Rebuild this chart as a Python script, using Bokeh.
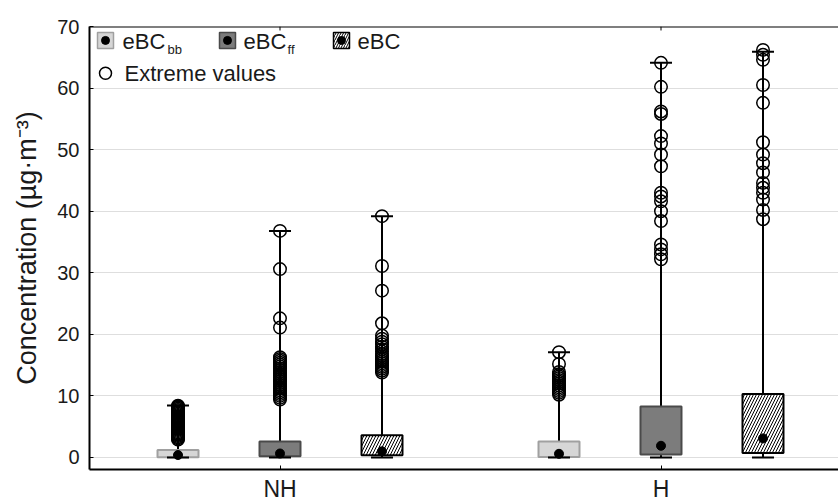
from bokeh.plotting import figure
from bokeh.models import Range1d, FixedTicker, Span
from bokeh.embed import file_html
from bokeh.resources import INLINE
from bokeh.core.properties import value

# ---------------- data ----------------
groups = ["NH", "H"]
series = ["eBCbb", "eBCff", "eBC"]

nh_min = [0.0, 0.0, 0.0]
nh_q1 = [0.05, 0.2, 0.37]
nh_med = [0.4, 0.65, 1.0]
nh_q3 = [1.2, 2.6, 3.6]
nh_max = [8.45, 36.8, 39.2]

h_min = [0.0, 0.0, 0.0]
h_q1 = [0.1, 0.5, 0.75]
h_med = [0.6, 1.9, 3.1]
h_q3 = [2.6, 8.3, 10.3]
h_max = [17.1, 64.1, 65.9]

nh_bb_ext = [8.4, 8.3, 8.1, 7.9, 7.7, 7.5, 7.3, 7.1, 6.9, 6.7, 6.5, 6.3, 6.1, 5.9, 5.7,
             5.5, 5.3, 5.1, 4.9, 4.7, 4.5, 4.3, 4.1, 3.9, 3.7, 3.5, 3.3, 3.1, 2.9]
nh_ff_ext = [36.8, 30.6, 22.6, 21.1, 16.3, 16.0, 15.7, 15.4, 15.1, 14.8, 14.5, 14.2,
             13.9, 13.6, 13.3, 13.0, 12.7, 12.4, 12.1, 11.8, 11.5, 11.2, 10.9, 10.6,
             10.3, 10.0, 9.7, 9.4]
nh_bc_ext = [39.2, 31.1, 27.1, 21.8, 19.8, 19.3, 18.8, 18.4, 18.0, 17.6, 17.2, 16.8,
             16.5, 16.2, 15.9, 15.6, 15.3, 15.0, 14.7, 14.4, 14.1, 13.8]
h_bb_ext = [17.1, 15.2, 13.9, 13.5, 13.2, 12.9, 12.6, 12.3, 12.0, 11.7, 11.4, 11.1,
            10.8, 10.5, 10.2]
h_ff_ext = [64.1, 60.2, 56.2, 55.8, 52.2, 51.0, 49.2, 47.3, 43.0, 42.4, 41.6, 40.0,
            38.4, 34.6, 33.8, 33.0, 32.2]
h_bc_ext = [66.2, 65.4, 64.6, 60.5, 57.6, 51.2, 49.2, 47.8, 46.3, 44.6, 43.8, 43.0,
            41.9, 40.2, 38.7]

y_ticks = [0, 10, 20, 30, 40, 50, 60, 70]

# ---------------- styles ----------------
fills = ["#d6d6d6", "#7c7c7c", "white"]
lines = ["#a0a0a0", "#4a4a4a", "black"]
hatches = [None, None, "/"]
FONT = "Liberation Sans"

W, H = 838, 504
LEFT, TOP, BOTTOM = 89, 26, 33
X0 = 0.5
PX_PER_X = 381.0
X1 = X0 + (W - LEFT) / PX_PER_X
Y0, Y1 = -1.95, 70.0
frame_h = H - TOP - BOTTOM
PX_PER_Y = frame_h / (Y1 - Y0)

OFF = 102.0 / PX_PER_X
BOXW = 41.0 / PX_PER_X
CAPW = 22.0 / PX_PER_X

p = figure(width=W, height=H, x_range=Range1d(X0, X1), y_range=Range1d(Y0, Y1),
           output_backend="svg", toolbar_location=None,
           min_border_left=LEFT, min_border_top=TOP, min_border_bottom=BOTTOM,
           min_border_right=0)
p.outline_line_color = None
p.background_fill_color = "white"
p.border_fill_color = "white"

p.xgrid.visible = False
p.ygrid.grid_line_color = "#dedede"
p.ygrid.grid_line_width = 1
p.ygrid.ticker = FixedTicker(ticks=y_ticks)

p.yaxis.ticker = FixedTicker(ticks=y_ticks)
p.yaxis.axis_line_width = 2
p.yaxis.axis_line_color = "black"
p.yaxis.major_tick_in = 4
p.yaxis.major_tick_out = 0
p.yaxis.minor_tick_line_color = None
p.yaxis.major_label_text_font = FONT
p.yaxis.major_label_text_font_size = "20px"
p.yaxis.major_label_text_color = "#1a1a1a"
p.yaxis.major_label_standoff = 10
p.yaxis.axis_label = "Concentration (µg·m⁻³)"
p.yaxis.axis_label_text_font = FONT
p.yaxis.axis_label_text_font_size = "27px"
p.yaxis.axis_label_text_font_style = "normal"
p.yaxis.axis_label_text_color = "#1a1a1a"
p.yaxis.axis_label_standoff = 12

p.xaxis.ticker = FixedTicker(ticks=[1, 2])
p.xaxis.major_label_overrides = {1: groups[0], 2: groups[1]}
p.xaxis.axis_line_width = 2
p.xaxis.axis_line_color = "black"
p.xaxis.major_tick_in = 4
p.xaxis.major_tick_out = 0
p.xaxis.minor_tick_line_color = None
p.xaxis.major_label_text_font = FONT
p.xaxis.major_label_text_font_size = "23px"
p.xaxis.major_label_text_color = "#1a1a1a"
p.xaxis.major_label_standoff = 6

# top frame line
p.add_layout(Span(location=Y1, dimension="width", line_color="black", line_width=2))

# top ticks
p.segment(x0=[1, 2], x1=[1, 2], y0=[Y1, Y1], y1=[Y1 - 4 / PX_PER_Y] * 2,
          line_color="black", line_width=1)

stats = {
    "NH": (nh_min, nh_q1, nh_med, nh_q3, nh_max, [nh_bb_ext, nh_ff_ext, nh_bc_ext]),
    "H": (h_min, h_q1, h_med, h_q3, h_max, [h_bb_ext, h_ff_ext, h_bc_ext]),
}

for gi, g in enumerate(groups):
    mn, q1, md, q3, mx, ext = stats[g]
    xs = [gi + 1 + (i - 1) * OFF for i in range(3)]
    # whiskers
    p.segment(x0=xs, x1=xs, y0=mn, y1=mx, line_color="black", line_width=2)
    # boxes
    for i in range(3):
        kw = dict(x=[xs[i]], width=BOXW, bottom=[q1[i]], top=[q3[i]],
                  fill_color=fills[i], line_color=lines[i], line_width=2)
        if hatches[i]:
            kw.update(hatch_pattern=hatches[i], hatch_color="black",
                      hatch_scale=6, hatch_weight=1)
        p.vbar(**kw)
    # caps
    p.segment(x0=[x - CAPW / 2 for x in xs], x1=[x + CAPW / 2 for x in xs], y0=mn, y1=mn,
              line_color="black", line_width=2)
    p.segment(x0=[x - CAPW / 2 for x in xs], x1=[x + CAPW / 2 for x in xs], y0=mx, y1=mx,
              line_color="black", line_width=2)
    # extremes
    for i in range(3):
        p.scatter(x=[xs[i]] * len(ext[i]), y=ext[i], marker="circle", size=12.5,
                  fill_color=None, line_color="black", line_width=1.5)
    # medians
    p.scatter(x=xs, y=md, marker="circle", size=9, fill_color="black", line_color="black")


# ---------------- legend (positions in px converted to data) ----------------
def px2x(px):
    return X0 + (px - LEFT) / PX_PER_X


def px2y(py):
    return Y1 - (py - TOP) / PX_PER_Y


leg_y = 40
sw_x = [105, 227, 341]
tx_x = [122, 243, 357]
sub_x = [167, 287, None]
sub_txt = ["bb", "ff", None]
for i in range(3):
    kw = dict(x=[px2x(sw_x[i])], y=[px2y(leg_y)], width=16, height=16,
              width_units="screen", height_units="screen",
              fill_color=fills[i], line_color=lines[i], line_width=1.5)
    if hatches[i]:
        kw.update(hatch_pattern=hatches[i], hatch_color="black", hatch_scale=5, hatch_weight=1)
    p.rect(**kw)
    p.scatter(x=[px2x(sw_x[i])], y=[px2y(leg_y)], marker="circle", size=8,
              fill_color="black", line_color="black")
    p.text(x=[px2x(tx_x[i])], y=[px2y(leg_y + 1)], text=["eBC"], text_font=value(FONT),
           text_font_size="22px", text_baseline="middle", text_align="left", text_color="#1a1a1a")
    if sub_txt[i]:
        p.text(x=[px2x(sub_x[i])], y=[px2y(leg_y + 9)], text=[sub_txt[i]], text_font=value(FONT),
               text_font_size="13px", text_baseline="middle", text_align="left",
               text_color="#1a1a1a")

p.scatter(x=[px2x(105)], y=[px2y(73)], marker="circle", size=12, fill_color=None,
          line_color="black", line_width=1.5)
p.text(x=[px2x(124)], y=[px2y(73)], text=["Extreme values"], text_font=value(FONT),
       text_font_size="22px", text_baseline="middle", text_align="left", text_color="#1a1a1a")

open("out.html", "w").write(file_html(p, INLINE))
